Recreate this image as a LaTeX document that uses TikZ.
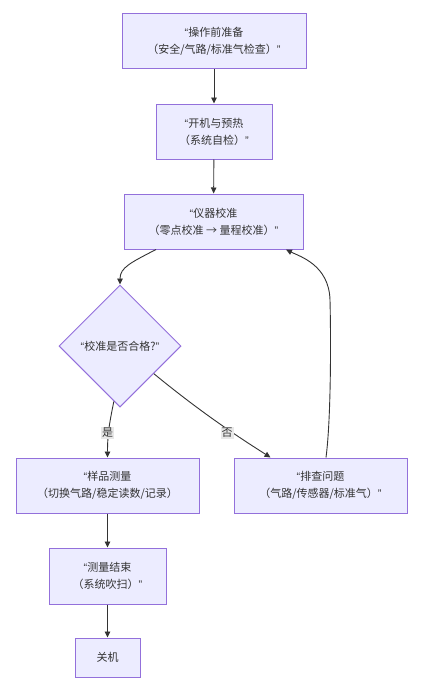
\documentclass[tikz,border=0pt]{standalone}
\usepackage{fontspec}
\setmainfont{Noto Sans CJK SC}
\newfontfamily\latf{Liberation Sans}
\usetikzlibrary{arrows.meta,shapes.geometric,calc}
\definecolor{nodefill}{HTML}{ECECFF}
\definecolor{nodeline}{HTML}{9370DB}
\definecolor{edgecol}{HTML}{333333}
\definecolor{lblbg}{HTML}{E8E8E8}
\newcommand\oq{{\latf “}}
\newcommand\cq{{\latf ”}}
\begin{document}
\begin{tikzpicture}[x=1pt,y=-1pt,
  box/.style={draw=nodeline, fill=nodefill, line width=1pt, inner sep=0pt, align=center,
    font=\fontsize{11}{17}\selectfont, text=edgecol},
  dia/.style={diamond, draw=nodeline, fill=nodefill, line width=1pt, inner sep=0pt, align=center,
    font=\fontsize{11}{17}\selectfont, text=edgecol, minimum width=122pt, minimum height=122pt},
  flow/.style={draw=edgecol, line width=0.9pt, -{Triangle[length=6pt,width=5.5pt]}},
  lbl/.style={fill=lblbg, inner sep=1pt, font=\fontsize{11}{13}\selectfont, text=edgecol}]
\useasboundingbox (0,0) rectangle (425,693);
\fill[white] (0,0) rectangle (425,693);

\node[box, minimum width=184pt, minimum height=55pt] (A) at (214,41.5) {\oq 操作前准备\\（安全/气路/标准气检查）\cq};
\node[box, minimum width=116pt, minimum height=55pt] (B) at (214,131.5) {\oq 开机与预热\\（系统自检）\cq};
\node[box, minimum width=179pt, minimum height=55pt] (C) at (213.5,221.5) {\oq 仪器校准\\（零点校准 → 量程校准）\cq};
\node[dia] (D) at (120,346) {\oq 校准是否合格?\cq};
\node[box, minimum width=183pt, minimum height=55pt] (E) at (107.5,485.5) {\oq 样品测量\\（切换气路/稳定读数/记录）};
\node[box, minimum width=173pt, minimum height=55pt] (F) at (320.5,485.5) {\oq 排查问题\\（气路/传感器/标准气）\cq};
\node[box, minimum width=117pt, minimum height=56pt] (G) at (107.5,576) {\oq 测量结束\\（系统吹扫）\cq};
\node[box, minimum width=65pt, minimum height=39pt] (H) at (107.5,657.5) {关机};

\draw[flow] (A) -- (B);
\draw[flow] (B) -- (C);
\draw[flow] ([xshift=-57.5pt]C.south) .. controls +(-25,13) and +(0,-17) .. (D.north);
\draw[flow] ($(D.south)!0.1!(D.west)$) .. controls +(-4,20) and +(0,-25) .. (E.north);
\draw[flow] ($(D.east)!0.45!(D.south)$) .. controls +(56,46) and +(-20,-13) .. ([xshift=-50pt]F.north);
\coordinate (bend) at (330,300);
\draw[flow] ([xshift=5.5pt]F.north) .. controls +(5,-38) and +(1,40) .. (bend)
  .. controls +(-1,-35) and +(14,7) .. ([xshift=72.5pt]C.south);
\draw[flow] (E) -- (G);
\draw[flow] (G) -- (H);

\node[lbl] (ly) at (107.5,433) {是};
\node[lbl] (ln) at (227,433) {否};
\end{tikzpicture}
\end{document}
